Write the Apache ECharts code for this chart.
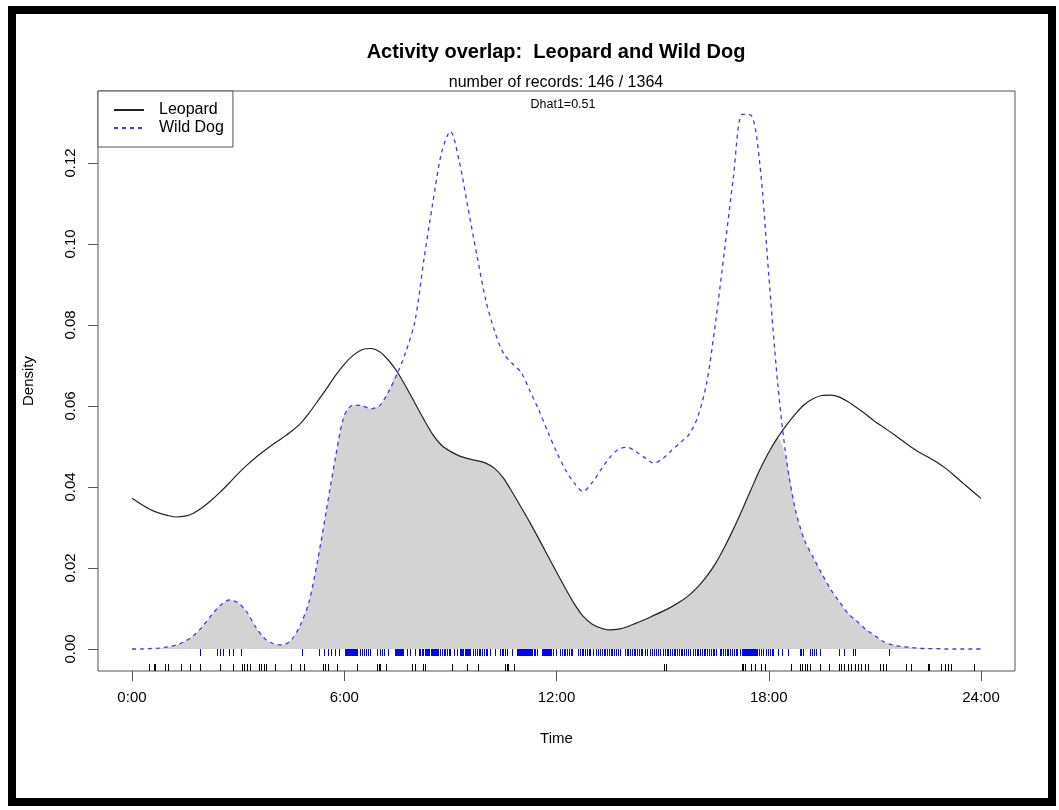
<!DOCTYPE html>
<html>
<head>
<meta charset="utf-8">
<title>Activity overlap: Leopard and Wild Dog</title>
<script src="https://cdn.jsdelivr.net/npm/echarts@6/dist/echarts.min.js"></script>
<style>
  html, body { margin: 0; padding: 0; background: #fff; }
  #chart { width: 1059px; height: 810px; }
</style>
</head>
<body>
<div id="chart"></div>
<script>
// Kernel density estimates, evaluated every quarter hour from 0:00 to 24:00
const timeGrid = Array.from({ length: 97 }, (_, i) => i / 4);

const leopardDensity = [
  0.0372, 0.0358, 0.0345, 0.0336, 0.0330, 0.0326, 0.0328, 0.0336,
  0.0350, 0.0368, 0.0388, 0.0410, 0.0433, 0.0454, 0.0473, 0.0490,
  0.0506, 0.0521, 0.0537, 0.0556, 0.0582, 0.0612, 0.0643, 0.0675,
  0.0703, 0.0725, 0.0739, 0.0742, 0.0734, 0.0713, 0.0684, 0.0647,
  0.0607, 0.0567, 0.0530, 0.0503, 0.0488, 0.0477, 0.0470, 0.0465,
  0.0459, 0.0446, 0.0422, 0.0387, 0.0350, 0.0312, 0.0272, 0.0231,
  0.0190, 0.0150, 0.0112, 0.0081, 0.0062, 0.0052, 0.0047, 0.0049,
  0.0055, 0.0064, 0.0073, 0.0083, 0.0093, 0.0104, 0.0117, 0.0133,
  0.0154, 0.0180, 0.0212, 0.0252, 0.0296, 0.0344, 0.0394, 0.0443,
  0.0486, 0.0522, 0.0553, 0.0580, 0.0603, 0.0618, 0.0626, 0.0627,
  0.0622, 0.0610, 0.0595, 0.0579, 0.0562, 0.0547, 0.0532, 0.0516,
  0.0500, 0.0486, 0.0474, 0.0461, 0.0446, 0.0428, 0.0409, 0.0390,
  0.0372
];

const wildDogDensity = [
  0.0000, 0.0000, 0.0001, 0.0002, 0.0005, 0.0010, 0.0019, 0.0034,
  0.0056, 0.0084, 0.0108, 0.0121, 0.0114, 0.0091, 0.0054, 0.0026,
  0.0013, 0.0010, 0.0022, 0.0058, 0.0115, 0.0220, 0.0345, 0.0472,
  0.0576, 0.0602, 0.0601, 0.0593, 0.0601, 0.0635, 0.0680, 0.0736,
  0.0810, 0.0960, 0.1100, 0.1225, 0.1278, 0.1205, 0.1088, 0.0972,
  0.0862, 0.0785, 0.0730, 0.0705, 0.0683, 0.0637, 0.0590, 0.0537,
  0.0487, 0.0443, 0.0410, 0.0389, 0.0410, 0.0442, 0.0472, 0.0493,
  0.0498, 0.0487, 0.0472, 0.0459, 0.0470, 0.0490, 0.0510, 0.0530,
  0.0575, 0.0660, 0.0810, 0.0985, 0.1165, 0.1320, 0.1318, 0.1195,
  0.0923, 0.0658, 0.0467, 0.0345, 0.0271, 0.0227, 0.0186, 0.0147,
  0.0116, 0.0087, 0.0068, 0.0048, 0.0033, 0.0018, 0.0010, 0.0006,
  0.0004, 0.0002, 0.0001, 0.0001, 0.0000, 0.0000, 0.0000, 0.0000,
  0.0000
];

// Record times (hours) shown as rug ticks under the curves
const leopardRecords = [
  0.47, 0.62, 0.66, 0.92, 1.01, 1.39, 1.65, 1.91, 2.50, 2.86, 3.11, 3.18,
  3.25, 3.33, 3.58, 3.65, 3.72, 3.80, 4.05, 4.49, 4.76, 4.85, 5.40, 5.46,
  5.53, 5.79, 6.36, 6.92, 6.97, 7.02, 7.19, 7.91, 8.00, 8.24, 8.29, 9.04,
  9.46, 9.79, 10.54, 10.59, 10.64, 10.80, 15.03, 15.09, 17.23, 17.27, 17.32,
  17.51, 17.60, 17.79, 17.89, 18.64, 18.87, 18.95, 19.01, 19.08, 19.16,
  19.46, 19.70, 19.98, 20.05, 20.14, 20.24, 20.33, 20.43, 20.52, 20.62,
  20.71, 20.80, 21.15, 21.23, 21.30, 21.89, 22.03, 22.50, 22.54, 22.87,
  22.97, 23.06, 23.16, 23.81
];

const wildDogRecords = [
  1.91, 2.39, 2.50, 2.57, 2.73, 2.87, 3.08, 4.80,
  5.30, 5.42, 5.53, 5.62, 5.75, 5.84,
  6.03, 6.06, 6.08, 6.11, 6.13, 6.16, 6.18, 6.21, 6.23, 6.26, 6.28, 6.31, 6.33, 6.36,
  6.45, 6.51, 6.56, 6.62, 6.68, 6.73,
  6.94, 7.02, 7.06, 7.11, 7.25,
  7.44, 7.46, 7.48, 7.51, 7.53, 7.55, 7.57, 7.60, 7.62, 7.64, 7.67, 7.77, 7.86, 8.00,
  8.10, 8.15, 8.20, 8.24, 8.29, 8.31, 8.34, 8.36, 8.39, 8.41, 8.44, 8.47, 8.49, 8.52,
  8.54, 8.56, 8.58, 8.62,
  8.66, 8.71, 8.76, 8.81, 8.86, 8.90, 8.95, 8.99, 9.09, 9.18,
  9.27, 9.30, 9.32, 9.35, 9.37, 9.40, 9.42, 9.45, 9.47, 9.50, 9.52, 9.56,
  9.65, 9.70, 9.75, 9.80, 9.85, 9.90, 9.95, 10.00, 10.03,
  10.12, 10.26, 10.40, 10.45, 10.50, 10.55, 10.59, 10.73,
  10.87, 10.90, 10.92, 10.95, 10.97, 11.00, 11.02, 11.05, 11.07, 11.10, 11.12,
  11.15, 11.17, 11.20, 11.22, 11.25, 11.27, 11.30, 11.32, 11.35, 11.37, 11.40, 11.44,
  11.58, 11.61, 11.63, 11.66, 11.68, 11.71, 11.73, 11.76, 11.78, 11.81, 11.84, 11.91, 12.00,
  12.10, 12.15, 12.20, 12.25, 12.30, 12.35, 12.40, 12.45,
  12.61, 12.66, 12.71, 12.76, 12.81, 12.86, 12.91, 12.96, 13.04,
  13.13, 13.18, 13.23, 13.28, 13.33, 13.38, 13.43, 13.48, 13.53, 13.58, 13.63, 13.68, 13.73, 13.79,
  13.93, 13.98, 14.03, 14.08, 14.13, 14.18, 14.23, 14.28, 14.33, 14.38, 14.43, 14.49, 14.55,
  14.64, 14.70, 14.76, 14.82, 14.87, 14.92,
  15.01, 15.06, 15.11, 15.16, 15.21, 15.26, 15.31, 15.36, 15.41, 15.46, 15.51, 15.56, 15.61, 15.66, 15.71, 15.77,
  15.86, 15.91, 15.96, 16.01, 16.06, 16.11, 16.16, 16.21, 16.26, 16.31, 16.36, 16.41, 16.46, 16.52,
  16.61, 16.66, 16.71, 16.76, 16.81, 16.86, 16.91, 16.96, 17.01, 17.06, 17.11, 17.18,
  17.23, 17.26, 17.28, 17.31, 17.33, 17.36, 17.38, 17.41, 17.43, 17.46, 17.48, 17.51, 17.53,
  17.56, 17.58, 17.61, 17.63, 17.66, 17.68, 17.73, 17.78, 17.84,
  17.93, 17.98, 18.03, 18.08, 18.12, 18.26, 18.38, 18.54, 18.87, 18.92, 18.97,
  19.16, 19.22, 19.28, 19.34, 19.44, 19.98, 20.12, 20.38, 20.45, 21.41
];

// Axis ticks and labels
const timeTicks = [0, 6, 12, 18, 24];
const timeTickLabels = ['0:00', '6:00', '12:00', '18:00', '24:00'];
const densityTicks = [0, 0.02, 0.04, 0.06, 0.08, 0.10, 0.12];
const densityTickLabels = ['0.00', '0.02', '0.04', '0.06', '0.08', '0.10', '0.12'];

const FONT = '"Liberation Sans", Arial, Helvetica, sans-serif';
const BOX = '#555';

const pairs = (ys) => timeGrid.map((t, i) => [t, ys[i]]);
// Overlap region: the lower of the two densities at each time
const overlap = timeGrid.map((t, i) => [t, Math.min(leopardDensity[i], wildDogDensity[i])]);

function rugSeries(name, times, color, atZero) {
  return {
    type: 'custom',
    name: name,
    silent: true,
    z: 4,
    data: times.map((t) => [t, 0]),
    encode: { x: 0, y: 1 },
    renderItem: function (params, api) {
      const p = api.coord([api.value(0), 0]);
      const x = Math.round(p[0]) + 0.5;
      let y0, y1;
      if (atZero) {
        y0 = p[1];
        y1 = p[1] + 7;
      } else {
        const bottom = params.coordSys.y + params.coordSys.height;
        y0 = bottom - 7;
        y1 = bottom;
      }
      return {
        type: 'line',
        shape: { x1: x, y1: y0, x2: x, y2: y1 },
        style: { stroke: color, lineWidth: 1 }
      };
    }
  };
}

const chart = echarts.init(document.getElementById('chart'), null, { renderer: 'canvas' });

chart.setOption({
  animation: false,
  backgroundColor: '#fff',
  textStyle: { fontFamily: FONT },
  grid: {
    left: 98, right: 44, top: 91, bottom: 139,
    show: true, borderColor: BOX, borderWidth: 1, backgroundColor: 'transparent'
  },
  xAxis: {
    type: 'value',
    min: -0.96, max: 24.96,
    name: 'Time',
    nameLocation: 'middle',
    nameGap: 60,
    nameTextStyle: { fontSize: 15, color: '#000', fontFamily: FONT },
    axisLine: { show: false, onZero: false },
    splitLine: { show: false },
    axisTick: { show: true, customValues: timeTicks, length: 10, lineStyle: { color: BOX } },
    axisLabel: {
      customValues: timeTicks,
      formatter: (v) => timeTickLabels[timeTicks.indexOf(v)],
      fontSize: 15, color: '#000', margin: 19, fontFamily: FONT
    }
  },
  yAxis: {
    type: 'value',
    min: -0.00543, max: 0.13778,
    name: 'Density',
    nameLocation: 'middle',
    nameGap: 62,
    nameTextStyle: { fontSize: 15, color: '#000', fontFamily: FONT },
    axisLine: { show: false, onZero: false },
    splitLine: { show: false },
    axisTick: { show: true, customValues: densityTicks, length: 10, lineStyle: { color: BOX } },
    axisLabel: {
      customValues: densityTicks,
      formatter: (v) => densityTickLabels[densityTicks.findIndex((d) => Math.abs(d - v) < 1e-9)],
      rotate: 90,
      fontSize: 15, color: '#000', margin: 20, fontFamily: FONT
    }
  },
  legend: {
    orient: 'vertical',
    left: 98, top: 91,
    padding: [11, 9, 11, 15],
    itemGap: 2,
    itemWidth: 30, itemHeight: 14,
    borderColor: BOX, borderWidth: 1, borderRadius: 0,
    backgroundColor: '#fff',
    itemStyle: { opacity: 0 },
    data: ['Leopard', 'Wild Dog'],
    textStyle: { fontSize: 16, lineHeight: 16, color: '#000', fontFamily: FONT, padding: [0, 0, 0, 10] }
  },
  series: [
    {
      type: 'line',
      name: 'overlap',
      data: overlap,
      smooth: 0.3,
      showSymbol: false,
      silent: true,
      z: 1,
      lineStyle: { width: 0, opacity: 0 },
      areaStyle: { color: '#d3d3d3', opacity: 1 }
    },
    {
      type: 'line',
      name: 'Leopard',
      data: pairs(leopardDensity),
      smooth: 0.3,
      symbol: 'none',
      z: 3,
      color: '#222',
      lineStyle: { color: '#222', width: 1.2 }
    },
    {
      type: 'line',
      name: 'Wild Dog',
      data: pairs(wildDogDensity),
      smooth: 0.3,
      symbol: 'none',
      z: 3,
      color: '#3a3aff',
      lineStyle: { color: '#3a3aff', width: 1.3, type: [4, 4] }
    },
    rugSeries('leopard records', leopardRecords, '#000', false),
    rugSeries('wild dog records', wildDogRecords, '#0000ff', true)
  ],
  graphic: [
    {
      type: 'rect', silent: true, z: 100,
      shape: { x: 12, y: 10, width: 1040, height: 792 },
      style: { fill: 'none', stroke: '#000', lineWidth: 8 }
    },
    {
      type: 'text', x: 556, y: 52, silent: true,
      style: { text: 'Activity overlap:  Leopard and Wild Dog', font: 'bold 20px ' + FONT,
               fill: '#000', textAlign: 'center', textVerticalAlign: 'middle' }
    },
    {
      type: 'text', x: 556, y: 83, silent: true,
      style: { text: 'number of records: 146 / 1364', font: '16px ' + FONT,
               fill: '#000', textAlign: 'center', textVerticalAlign: 'middle' }
    },
    {
      type: 'text', x: 563, y: 105, silent: true,
      style: { text: 'Dhat1=0.51', font: '12.5px ' + FONT,
               fill: '#000', textAlign: 'center', textVerticalAlign: 'middle' }
    }
  ]
});
</script>
</body>
</html>
